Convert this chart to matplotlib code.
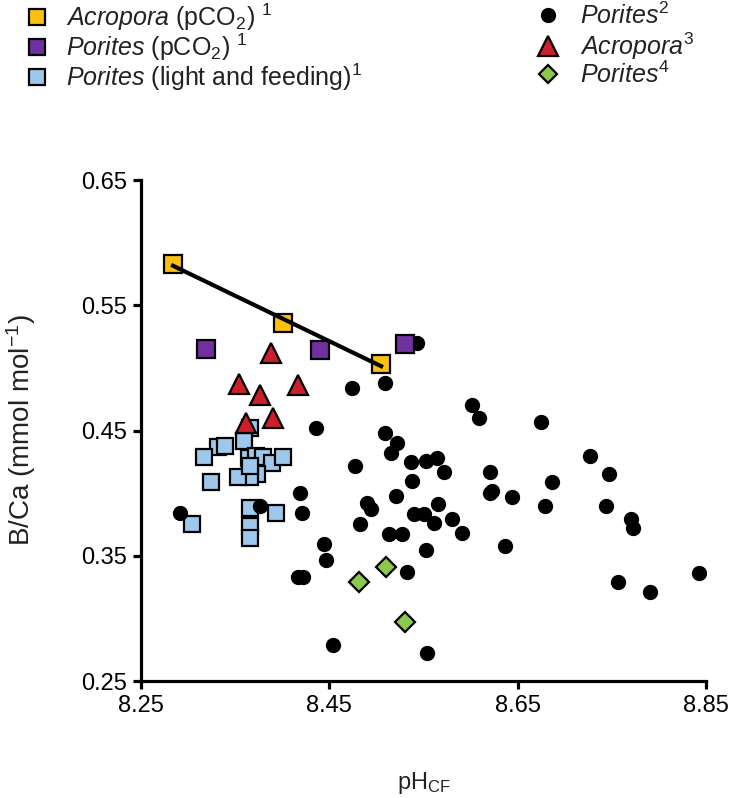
## B/Ca vs pH_CF scatter
import matplotlib
matplotlib.use("Agg")
import matplotlib.pyplot as plt
from matplotlib.lines import Line2D
import numpy as np

plt.rcParams['font.family'] = ['Liberation Sans', 'DejaVu Sans']
plt.rcParams['mathtext.fontset'] = 'custom'
plt.rcParams['mathtext.rm'] = 'Liberation Sans'
plt.rcParams['mathtext.it'] = 'Liberation Sans:italic'
plt.rcParams['mathtext.default'] = 'regular'

# Acropora (pCO2) 1
acro_pco2_x = [8.284, 8.401, 8.505]
acro_pco2_y = [0.583, 0.536, 0.503]

# Porites (pCO2) 1
por_pco2_x = [8.319, 8.440, 8.530]
por_pco2_y = [0.515, 0.514, 0.519]

# Porites (light and feeding) 1
por_light_x = [8.366, 8.359, 8.332, 8.339, 8.317, 8.365, 8.372, 8.380, 8.389, 8.401,
               8.373, 8.366, 8.353, 8.324, 8.366, 8.393, 8.304, 8.366, 8.366, 8.366]
por_light_y = [0.452, 0.442, 0.437, 0.438, 0.429, 0.428, 0.430, 0.429, 0.424, 0.429,
               0.415, 0.413, 0.413, 0.409, 0.388, 0.384, 0.375, 0.374, 0.364, 0.422]

# Porites 2
por2_x = [8.543, 8.474, 8.509, 8.436, 8.509, 8.522, 8.515, 8.477, 8.537, 8.553,
          8.564, 8.572, 8.538, 8.521, 8.419, 8.421, 8.490, 8.494, 8.483, 8.540,
          8.551, 8.561, 8.565, 8.580, 8.591, 8.513, 8.527, 8.291, 8.376, 8.444,
          8.447, 8.422, 8.417, 8.553, 8.533, 8.454, 8.554, 8.602, 8.609, 8.675,
          8.727, 8.747, 8.621, 8.623, 8.621, 8.644, 8.686, 8.679, 8.744, 8.770,
          8.772, 8.637, 8.757, 8.791, 8.843]
por2_y = [0.520, 0.484, 0.488, 0.452, 0.448, 0.440, 0.432, 0.422, 0.425, 0.426,
          0.428, 0.417, 0.410, 0.398, 0.400, 0.384, 0.392, 0.387, 0.375, 0.383,
          0.383, 0.376, 0.391, 0.379, 0.368, 0.367, 0.367, 0.384, 0.390, 0.359,
          0.347, 0.333, 0.333, 0.355, 0.337, 0.279, 0.272, 0.470, 0.460, 0.457,
          0.430, 0.415, 0.417, 0.402, 0.400, 0.397, 0.409, 0.390, 0.390, 0.379,
          0.372, 0.358, 0.329, 0.321, 0.336]

# Acropora 3
acro3_x = [8.388, 8.354, 8.417, 8.376, 8.390, 8.362]
acro3_y = [0.512, 0.487, 0.486, 0.478, 0.460, 0.456]

# Porites 4
por4_x = [8.482, 8.510, 8.530]
por4_y = [0.329, 0.341, 0.297]

yellow = '#FDC010'
purple = '#7030A0'
lblue = '#9DC8EC'
red = '#CC1F2E'
green = '#8CC84B'

W, H = 739, 798
fig = plt.figure(figsize=(W / 100, H / 100), dpi=100)
ax = fig.add_axes([0.1908, 0.1466, 0.7645, 0.6278])

ax.plot(por_light_x, por_light_y, 's', ms=11, mfc=lblue, mec='black', mew=1.6, ls='none', zorder=2)
ax.plot(por2_x, por2_y, 'o', ms=10, color='black', ls='none', zorder=3)
ax.plot(acro3_x, acro3_y, '^', ms=14.5, mfc=red, mec='black', mew=1.6, ls='none', zorder=4)
ax.plot(por4_x, por4_y, 'D', ms=10, mfc=green, mec='black', mew=1.6, ls='none', zorder=4)
ax.plot(por_pco2_x, por_pco2_y, 's', ms=12.5, mfc=purple, mec='black', mew=1.6, ls='none', zorder=4)
ax.plot(acro_pco2_x, acro_pco2_y, 's', ms=12.5, mfc=yellow, mec='black', mew=1.6, ls='none', zorder=5)

# regression line for acropora pCO2
k, b = np.polyfit(acro_pco2_x, acro_pco2_y, 1)
xx = np.array([min(acro_pco2_x), max(acro_pco2_x)])
ax.plot(xx, k * xx + b, color='black', lw=3, zorder=6)

ax.set_xlim(8.25, 8.85)
ax.set_ylim(0.25, 0.65)
ax.set_xticks([8.25, 8.45, 8.65, 8.85])
ax.set_yticks([0.25, 0.35, 0.45, 0.55, 0.65])
ax.set_xticklabels(['8.25', '8.45', '8.65', '8.85'])
ax.set_yticklabels(['0.25', '0.35', '0.45', '0.55', '0.65'])
for s in ['top', 'right']:
    ax.spines[s].set_visible(False)
for s in ['left', 'bottom']:
    ax.spines[s].set_linewidth(2.3)
ax.tick_params(direction='out', length=6, width=2.3, labelsize=17, pad=4)
ax.set_ylabel('B/Ca (mmol mol$^{-1}$)', fontsize=20, color='#222222')
ax.yaxis.set_label_coords(-0.182, 0.5)
ax.set_xlabel('pH$_{CF}$', fontsize=17, labelpad=38, color='#222222')

# legend, one row at a time so the rows sit where they should
def legend_row(handle, label, x_px, y_px, pad):
    lg = fig.legend([handle], [label], loc='center left',
                    bbox_to_anchor=(x_px / W, 1 - y_px / H),
                    frameon=False, fontsize=18, handlelength=1.1, handletextpad=pad,
                    borderpad=0, borderaxespad=0)
    lg.get_texts()[0].set_color('#222222')

left_rows = [
    (Line2D([], [], marker='s', ls='none', ms=11, mfc=yellow, mec='black', mew=1.6),
     r'$\mathit{Acropora}$ (pCO$_2$) $^1$', 17),
    (Line2D([], [], marker='s', ls='none', ms=11, mfc=purple, mec='black', mew=1.6),
     r'$\mathit{Porites}$ (pCO$_2$) $^1$', 47),
    (Line2D([], [], marker='s', ls='none', ms=11, mfc=lblue, mec='black', mew=1.6),
     r'$\mathit{Porites}$ (light and feeding)$^1$', 77),
]
right_rows = [
    (Line2D([], [], marker='o', ls='none', ms=10, color='black'),
     r'$\mathit{Porites}^2$', 16),
    (Line2D([], [], marker='^', ls='none', ms=14, mfc=red, mec='black', mew=1.6),
     r'$\mathit{Acropora}^3$', 46),
    (Line2D([], [], marker='D', ls='none', ms=9.5, mfc=green, mec='black', mew=1.6),
     r'$\mathit{Porites}^4$', 75),
]
for h, lab, y in left_rows:
    legend_row(h, lab, 23, y, 0.6)
for h, lab, y in right_rows:
    legend_row(h, lab, 534, y, 0.75)

fig.savefig('out.png', dpi=100)
